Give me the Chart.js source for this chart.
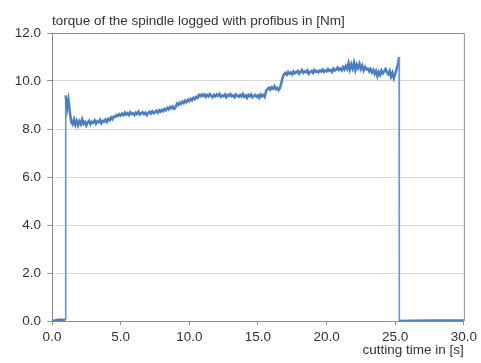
<!DOCTYPE html>
<html>
<head>
<meta charset="utf-8">
<title>Spindle torque</title>
<script src="https://cdn.jsdelivr.net/npm/chart.js@4.4.1/dist/chart.umd.min.js"></script>
<style>
  html, body { margin: 0; padding: 0; background: #fff; }
  #wrap { position: relative; width: 481px; height: 363px; }
  #torqueChart { position: absolute; left: 0; top: 0; }
  .label {
    position: absolute;
    font-family: "Liberation Sans", Arial, sans-serif;
    font-size: 13.5px;
    color: #333;
    white-space: nowrap;
  }
  #chartTitle { left: 52px; top: 13px; }
</style>
</head>
<body>
<div id="wrap">
  <canvas id="torqueChart" width="481" height="363"></canvas>
  <div id="chartTitle" class="label">torque of the spindle logged with profibus in [Nm]</div>
</div>
<script>
// spindle idle before the cut [s] / [Nm]
const idleTimes = [0.0, 0.5, 0.95];
const idleTorque = [0.0, 0.05, 0.05];

// cutting phase, logged values [s]
const cutTimes = [
  1.0, 1.1, 1.2, 1.3, 1.4, 1.5, 1.6, 1.7, 1.8, 1.9,
  2.0, 2.1, 2.2, 2.3, 2.4, 2.5, 2.6, 2.7, 2.8, 2.9,
  3.0, 3.1, 3.2, 3.3, 3.4, 3.5, 3.6, 3.7, 3.8, 3.9,
  4.0, 4.1, 4.2, 4.3, 4.4, 4.5, 4.6, 4.7, 4.8, 4.9,
  5.0, 5.1, 5.2, 5.3, 5.4, 5.5, 5.6, 5.7, 5.8, 5.9,
  6.0, 6.1, 6.2, 6.3, 6.4, 6.5, 6.6, 6.7, 6.8, 6.9,
  7.0, 7.1, 7.2, 7.3, 7.4, 7.5, 7.6, 7.7, 7.8, 7.9,
  8.0, 8.1, 8.2, 8.3, 8.4, 8.5, 8.6, 8.7, 8.8, 8.9,
  9.0, 9.1, 9.2, 9.3, 9.4, 9.5, 9.6, 9.7, 9.8, 9.9,
  10.0, 10.1, 10.2, 10.3, 10.4, 10.5, 10.6, 10.7, 10.8, 10.9,
  11.0, 11.1, 11.2, 11.3, 11.4, 11.5, 11.6, 11.7, 11.8, 11.9,
  12.0, 12.1, 12.2, 12.3, 12.4, 12.5, 12.6, 12.7, 12.8, 12.9,
  13.0, 13.1, 13.2, 13.3, 13.4, 13.5, 13.6, 13.7, 13.8, 13.9,
  14.0, 14.1, 14.2, 14.3, 14.4, 14.5, 14.6, 14.7, 14.8, 14.9,
  15.0, 15.1, 15.2, 15.3, 15.4, 15.5, 15.6, 15.7, 15.8, 15.9,
  16.0, 16.1, 16.2, 16.3, 16.4, 16.5, 16.6, 16.7, 16.8, 16.9,
  17.0, 17.1, 17.2, 17.3, 17.4, 17.5, 17.6, 17.7, 17.8, 17.9,
  18.0, 18.1, 18.2, 18.3, 18.4, 18.5, 18.6, 18.7, 18.8, 18.9,
  19.0, 19.1, 19.2, 19.3, 19.4, 19.5, 19.6, 19.7, 19.8, 19.9,
  20.0, 20.1, 20.2, 20.3, 20.4, 20.5, 20.6, 20.7, 20.8, 20.9,
  21.0, 21.1, 21.2, 21.3, 21.4, 21.5, 21.6, 21.7, 21.8, 21.9,
  22.0, 22.1, 22.2, 22.3, 22.4, 22.5, 22.6, 22.7, 22.8, 22.9,
  23.0, 23.1, 23.2, 23.3, 23.4, 23.5, 23.6, 23.7, 23.8, 23.9,
  24.0, 24.1, 24.2, 24.3, 24.4, 24.5, 24.6, 24.7, 24.8, 24.9,
  25.0, 25.1, 25.2, 25.28
];
// torque [Nm]
const cutTorque = [
  9.40, 8.85, 9.20, 8.70, 8.30, 8.20, 8.40, 8.18, 8.35, 8.15,
  8.32, 8.20, 8.40, 8.22, 8.30, 8.15, 8.28, 8.34, 8.20, 8.30,
  8.26, 8.36, 8.22, 8.32, 8.28, 8.38, 8.24, 8.34, 8.30, 8.40,
  8.30, 8.42, 8.36, 8.48, 8.40, 8.52, 8.50, 8.58, 8.54, 8.62,
  8.56, 8.64, 8.58, 8.68, 8.60, 8.66, 8.58, 8.70, 8.62, 8.66,
  8.58, 8.68, 8.62, 8.72, 8.60, 8.66, 8.70, 8.62, 8.68, 8.58,
  8.66, 8.72, 8.64, 8.74, 8.66, 8.70, 8.76, 8.68, 8.78, 8.72,
  8.80, 8.74, 8.84, 8.78, 8.88, 8.82, 8.92, 8.86, 8.94, 8.84,
  8.90, 9.06, 9.00, 9.10, 9.04, 9.14, 9.08, 9.18, 9.12, 9.22,
  9.16, 9.26, 9.20, 9.30, 9.24, 9.34, 9.30, 9.42, 9.36, 9.44,
  9.38, 9.44, 9.34, 9.42, 9.36, 9.46, 9.38, 9.32, 9.42, 9.36,
  9.44, 9.38, 9.46, 9.34, 9.40, 9.36, 9.44, 9.32, 9.42, 9.38,
  9.46, 9.36, 9.40, 9.32, 9.44, 9.38, 9.34, 9.42, 9.36, 9.46,
  9.34, 9.40, 9.30, 9.42, 9.36, 9.44, 9.32, 9.38, 9.42, 9.34,
  9.40, 9.30, 9.44, 9.36, 9.42, 9.34, 9.60, 9.66, 9.72, 9.64,
  9.74, 9.68, 9.78, 9.66, 9.72, 9.62, 9.70, 9.90, 10.15, 10.28,
  10.34, 10.26, 10.38, 10.30, 10.36, 10.28, 10.40, 10.32, 10.36, 10.42,
  10.30, 10.38, 10.46, 10.34, 10.40, 10.36, 10.44, 10.30, 10.38, 10.42,
  10.34, 10.46, 10.38, 10.42, 10.36, 10.44, 10.40, 10.48, 10.38, 10.44,
  10.40, 10.50, 10.42, 10.46, 10.38, 10.52, 10.44, 10.48, 10.56, 10.46,
  10.52, 10.44, 10.58, 10.48, 10.62, 10.50, 10.74, 10.48, 10.70, 10.52,
  10.76, 10.46, 10.68, 10.54, 10.72, 10.50, 10.64, 10.44, 10.58, 10.48,
  10.52, 10.40, 10.50, 10.36, 10.46, 10.30, 10.42, 10.20, 10.38, 10.26,
  10.44, 10.32, 10.40, 10.50, 10.36, 10.28, 10.42, 10.18, 10.34, 10.12,
  10.30, 10.50, 10.70, 11.00
];

// spindle stopped after the cut
const stopTimes = [25.3, 27.5, 30.0];
const stopTorque = [0.0, 0.02, 0.02];

const yTicks = [0, 2, 4, 6, 8, 10, 12];
const xTicks = [0, 5, 10, 15, 20, 25, 30];

function toPoints(times, values) {
  return times.map((t, i) => ({ x: t, y: values[i] }));
}

const torquePoints = [].concat(
  toPoints(idleTimes, idleTorque),
  toPoints(cutTimes, cutTorque),
  toPoints(stopTimes, stopTorque)
);

const FONT = { family: "'Liberation Sans', Arial, sans-serif", size: 13.5 };
const TEXT_COLOR = "#333";
const AXIS_COLOR = "#8c8c8c";
const GRID_COLOR = "#d9d9d9";
const LINE_COLOR = "#4a7ec0";

// steile Flanken (Start/Stopp) etwas dünner zeichnen
function isJump(ctx) {
  return Math.abs(ctx.p1.parsed.y - ctx.p0.parsed.y) > 5;
}

// Rahmen um die Zeichenfläche (rechts und oben)
const frameBorder = {
  id: "frameBorder",
  beforeDatasetsDraw(chart) {
    const a = chart.chartArea;
    const ctx = chart.ctx;
    ctx.save();
    ctx.strokeStyle = AXIS_COLOR;
    ctx.lineWidth = 1;
    ctx.beginPath();
    ctx.moveTo(a.left, a.top + 0.5);
    ctx.lineTo(a.right + 0.5, a.top + 0.5);
    ctx.lineTo(a.right + 0.5, a.bottom);
    ctx.stroke();
    ctx.restore();
  },
};

new Chart(document.getElementById("torqueChart"), {
  type: "line",
  data: {
    datasets: [
      {
        data: torquePoints,
        borderColor: LINE_COLOR,
        borderWidth: 2.5,
        pointRadius: 0,
        tension: 0,
        fill: false,
        segment: {
          borderColor: (ctx) => (isJump(ctx) ? "#6b93d6" : undefined),
          borderWidth: (ctx) => (isJump(ctx) ? 1.6 : undefined),
        },
      },
    ],
  },
  options: {
    responsive: false,
    animation: false,
    layout: { padding: { top: 33, right: 17, left: 0, bottom: 0 } },
    plugins: {
      legend: { display: false },
      tooltip: { enabled: false },
    },
    scales: {
      x: {
        type: "linear",
        min: 0,
        max: 30,
        afterBuildTicks: (scale) => {
          scale.ticks = xTicks.map((v) => ({ value: v }));
        },
        afterFit: (scale) => {
          scale.height = 42;
        },
        ticks: {
          color: TEXT_COLOR,
          font: FONT,
          padding: 4,
          maxRotation: 0,
          callback: (v) => v.toFixed(1),
        },
        grid: {
          drawOnChartArea: false,
          drawTicks: true,
          tickLength: 4,
          color: AXIS_COLOR,
        },
        border: { color: AXIS_COLOR },
        title: {
          display: true,
          text: "cutting time in [s]",
          align: "end",
          color: TEXT_COLOR,
          font: FONT,
          padding: { top: 0, bottom: 5 },
        },
      },
      y: {
        min: 0,
        max: 12,
        afterBuildTicks: (scale) => {
          scale.ticks = yTicks.map((v) => ({ value: v }));
        },
        afterFit: (scale) => {
          scale.width = 52;
        },
        ticks: {
          color: TEXT_COLOR,
          font: FONT,
          padding: 6,
          callback: (v) => v.toFixed(1),
        },
        grid: {
          color: GRID_COLOR,
          tickColor: AXIS_COLOR,
          tickLength: 5,
        },
        border: { color: AXIS_COLOR },
      },
    },
  },
  plugins: [frameBorder],
});
</script>
</body>
</html>
